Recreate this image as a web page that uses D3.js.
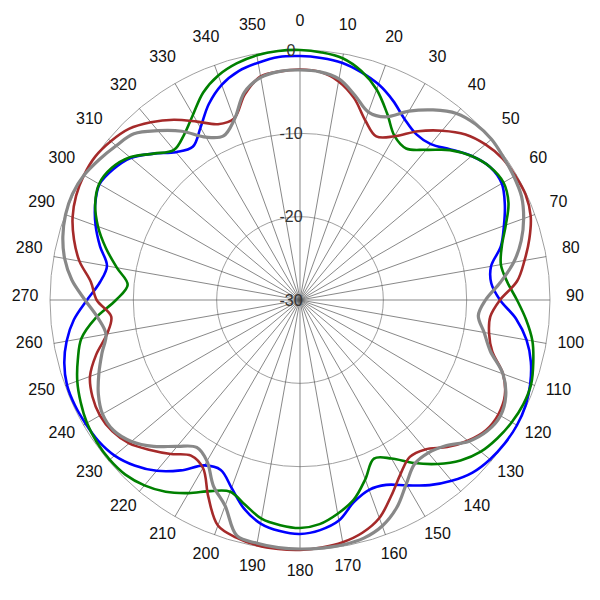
<!DOCTYPE html>
<html>
<head>
<meta charset="utf-8">
<script src="https://cdn.jsdelivr.net/npm/d3@7"></script>
<style>
html,body{margin:0;padding:0;background:#fff;}
svg{display:block;}
text{font-family:"Liberation Sans",Arial,sans-serif;}
</style>
</head>
<body>
<svg id="chart" width="600" height="600"></svg>
<script>
// angles in degrees (0 = top, clockwise)
const angles = d3.range(0, 360, 5);
const angleTicks = d3.range(0, 360, 10);
const ringTicks = [-30, -20, -10, 0];

// gain values in dB
const blue = [-0.72,-0.84,-1.08,-1.68,-2.46,-3.6,-4.92,-5.7,-5.58,-4.44,-3.12,-2.16,-2.04,-2.88,-3.96,-5.04,-6.72,-6.96,
  -6.0,-3.96,-2.4,-1.32,-0.6,-0.12,0.06,0,-0.24,-0.72,-1.68,-2.88,-4.32,-5.52,-5.76,-4.92,-3.12,-2.28,
  -1.92,-2.16,-2.76,-4.08,-6.0,-7.5,-7.08,-5.04,-3.24,-1.92,-0.96,-0.48,-0.3,-0.18,-0.24,-0.72,-1.56,-2.76,
  -4.44,-5.88,-6.48,-5.16,-3.9,-2.88,-2.22,-2.64,-3.48,-5.16,-6.84,-7.56,-6.12,-4.08,-2.52,-1.56,-1.08,-0.72];
const green = [0,-0.18,-0.54,-1.56,-3.12,-5.28,-7.3,-7.8,-6.48,-4.56,-3.12,-2.16,-1.8,-2.4,-3.72,-4.92,-5.52,-5.04,
  -3.96,-2.76,-1.68,-1.02,-0.48,-0.42,-0.66,-1.08,-1.68,-2.76,-4.32,-6.12,-8.04,-9.0,-7.1,-5.16,-3.96,-3.0,
  -2.64,-2.88,-3.36,-4.56,-5.52,-4.7,-3.24,-1.9,-0.96,-0.36,-0.18,-0.24,-0.48,-0.96,-1.56,-2.4,-3.36,-5.4,
  -7.92,-9.24,-7.68,-5.88,-4.2,-2.88,-2.16,-2.4,-3.36,-5.16,-6.48,-5.76,-4.32,-2.52,-1.32,-0.6,-0.18,0];
const brown = [-2.34,-2.52,-3.36,-4.92,-7.08,-8.34,-7.32,-5.28,-3.48,-1.92,-0.96,-0.36,-0.18,-0.12,-0.54,-1.5,-2.64,-3.84,
  -6.0,-7.08,-6.96,-6.12,-4.08,-2.88,-2.52,-2.76,-3.72,-5.04,-6.6,-7.02,-5.88,-4.08,-2.16,-1.08,-0.48,-0.18,
  0,0,-0.12,-0.48,-1.2,-3.96,-6.72,-7.2,-5.88,-4.56,-3.24,-2.52,-2.28,-2.52,-3.18,-4.68,-6.48,-7.26,
  -5.6,-4.8,-3.12,-1.92,-0.96,-0.36,-0.06,0,-0.36,-0.96,-2.16,-3.6,-5.28,-6.72,-6.84,-4.44,-2.76,-2.46];
const gray = [-2.4,-2.52,-3.06,-4.56,-6.0,-5.76,-3.84,-2.16,-0.78,-0.18,0,-0.18,-0.36,-0.66,-1.44,-2.52,-3.96,-5.88,
  -7.74,-8.52,-7.56,-6.36,-4.08,-2.76,-2.22,-2.58,-3.6,-5.28,-6.06,-6.0,-4.5,-2.52,-1.14,-0.42,-0.18,-0.12,
  -0.12,-0.18,-0.36,-0.72,-3.72,-5.4,-7.68,-8.4,-7.08,-5.16,-3.6,-2.7,-2.64,-3.3,-4.32,-5.4,-6.36,-5.64,
  -4.2,-2.52,-1.32,-0.54,-0.06,0.12,-0.06,-0.6,-1.2,-1.8,-3.48,-5.28,-7.44,-8.28,-6.96,-4.2,-2.88,-2.46];

const seriesList = [
  {values: blue,  color: "#0000ff", width: 2.6},
  {values: green, color: "#008000", width: 2.6},
  {values: brown, color: "#a52a2a", width: 2.6},
  {values: gray,  color: "#888888", width: 3.2}
];

const cx = 300, cy = 300, R = 250;
const svg = d3.select("#chart");
const g = svg.append("g").attr("transform", `translate(${cx},${cy})`);

const r = d3.scaleLinear().domain([-30, 0]).range([0, R]);
const a = d3.scaleLinear().domain([0, 360]).range([0, 2 * Math.PI]);

// rings
g.selectAll("circle.ring").data(ringTicks.filter(d => d > -30)).join("circle")
  .attr("class", "ring").attr("r", d => r(d))
  .attr("fill", "none").attr("stroke", "#a0a0a0").attr("stroke-width", 1);

// spokes
g.selectAll("line.spoke").data(angleTicks).join("line")
  .attr("class", "spoke")
  .attr("x1", 0).attr("y1", 0)
  .attr("x2", d => R * Math.sin(a(d)))
  .attr("y2", d => -R * Math.cos(a(d)))
  .attr("stroke", "#555").attr("stroke-width", 0.7);

// angle labels
const LR = 275;
g.selectAll("text.ang").data(angleTicks).join("text")
  .attr("class", "ang")
  .attr("x", d => LR * Math.sin(a(d)))
  .attr("y", d => -LR * Math.cos(a(d)) - 5)
  .attr("dy", "0.35em")
  .attr("text-anchor", "middle")
  .attr("font-size", 16).attr("fill", "#111")
  .text(d => d);

// series
const line = d3.lineRadial()
  .angle((d, i) => a(angles[i]))
  .radius(d => r(d))
  .curve(d3.curveCatmullRomClosed.alpha(0.5));

g.selectAll("path.series").data(seriesList).join("path")
  .attr("class", "series")
  .attr("d", d => line(d.values))
  .attr("fill", "none")
  .attr("stroke", d => d.color)
  .attr("stroke-width", d => d.width)
  .attr("stroke-linejoin", "round");

// ring labels
g.selectAll("text.ringlab").data(ringTicks).join("text")
  .attr("class", "ringlab")
  .attr("x", -9)
  .attr("y", d => -r(d))
  .attr("dy", "0.35em")
  .attr("text-anchor", "middle")
  .attr("font-size", 16).attr("fill", "#333")
  .text(d => d);
</script>
</body>
</html>
